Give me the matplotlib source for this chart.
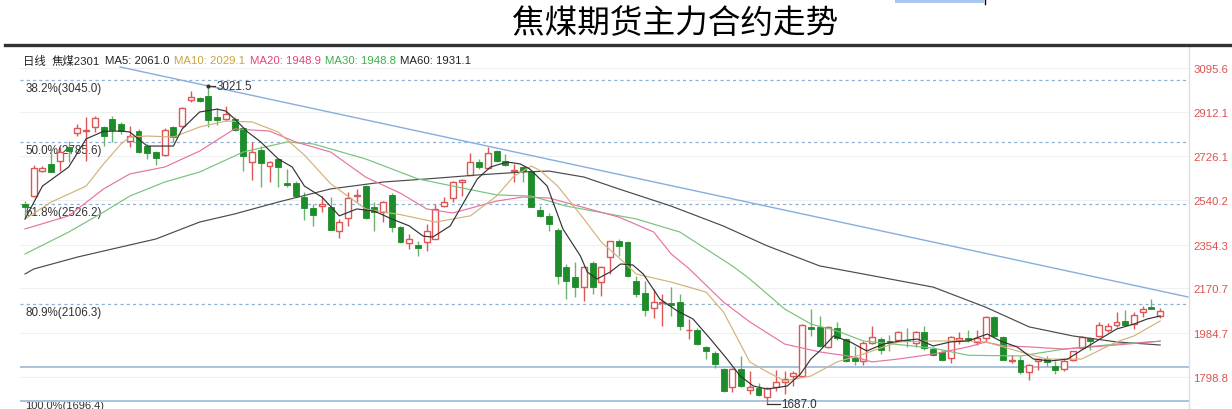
import matplotlib
matplotlib.use("Agg")
import matplotlib.pyplot as plt
from matplotlib.lines import Line2D
from matplotlib.patches import Rectangle

plt.rcParams['font.family'] = ['Liberation Sans', 'Noto Sans CJK SC', 'DejaVu Sans']

# ---------------- data ----------------
opens = [2525, 2557, 2663, 2693, 2704, 2764, 2823, 2831, 2847, 2849,
         2882, 2861, 2788, 2833, 2767, 2742, 2731, 2849, 2853, 2963,
         2970, 2977, 2889, 2882, 2882, 2843, 2702, 2753, 2686, 2714,
         2613, 2612, 2553, 2508, 2515, 2511, 2413, 2465, 2560, 2602,
         2511, 2492, 2563, 2427, 2361, 2354, 2364, 2378, 2518, 2549,
         2616, 2648, 2702, 2675, 2749, 2707, 2663, 2679, 2662, 2501,
         2473, 2417, 2262, 2217, 2178, 2276, 2199, 2304, 2371, 2364,
         2200, 2151, 2088, 2110, 2109, 2112, 1995, 1997, 1923, 1900,
         1832, 1756, 1832, 1745, 1753, 1716, 1756, 1777, 1804, 1804,
         2007, 2007, 1923, 2004, 1958, 1877, 1867, 1941, 1958, 1949,
         1955, 1955, 1941, 1986, 1916, 1902, 1879, 1955, 1961, 1944,
         1961, 2052, 1965, 1867, 1871, 1818, 1865, 1874, 1846, 1832,
         1871, 1919, 1961, 1972, 1997, 2017, 2033, 2021, 2073, 2091,
         2054]
highs = [2539, 2688, 2684, 2759, 2763, 2790, 2861, 2889, 2893, 2853,
         2895, 2868, 2853, 2840, 2777, 2749, 2843, 2853, 2931, 3000,
         2973, 3021.5, 2927, 2937, 2889, 2847, 2784, 2770, 2707, 2717,
         2672, 2623, 2574, 2525, 2560, 2553, 2462, 2574, 2588, 2606,
         2532, 2539, 2571, 2432, 2399, 2371, 2441, 2525, 2553, 2623,
         2630, 2739, 2714, 2763, 2751, 2735, 2693, 2684, 2667, 2518,
         2487, 2424, 2273, 2282, 2266, 2285, 2266, 2371, 2378, 2370,
         2221, 2203, 2168, 2147, 2175, 2147, 2042, 2004, 1930, 1908,
         1836, 1836, 1888, 1825, 1772, 1757, 1828, 1825, 1824, 2021,
         2084, 2056, 2012, 2028, 1962, 1930, 1951, 2012, 1966, 1975,
         1991, 2003, 1993, 2012, 1925, 1912, 1971, 1986, 1997, 1997,
         2055, 2055, 1971, 1891, 1888, 1853, 1877, 1886, 1866, 1874,
         1908, 1971, 1967, 2028, 2025, 2070, 2081, 2070, 2095, 2126,
         2088]
lows = [2469, 2555, 2659, 2658, 2665, 2700, 2812, 2707, 2826, 2770,
        2784, 2819, 2763, 2739, 2714, 2689, 2728, 2784, 2847, 2952,
        2952, 2847, 2856, 2874, 2832, 2665, 2627, 2595, 2616, 2595,
        2595, 2557, 2459, 2434, 2490, 2415, 2382, 2431, 2532, 2462,
        2413, 2448, 2406, 2361, 2336, 2308, 2329, 2376, 2511, 2532,
        2560, 2646, 2672, 2672, 2701, 2686, 2618, 2618, 2512, 2469,
        2413, 2189, 2126, 2134, 2119, 2147, 2140, 2231, 2308, 2218,
        2135, 2056, 2045, 2014, 2056, 1997, 1958, 1933, 1874, 1835,
        1736, 1735, 1757, 1727, 1719, 1687, 1740, 1727, 1762, 1803,
        1972, 1925, 1920, 1954, 1862, 1849, 1849, 1937, 1895, 1909,
        1944, 1925, 1923, 1912, 1887, 1866, 1858, 1937, 1944, 1933,
        1946, 1967, 1870, 1858, 1811, 1787, 1829, 1846, 1811, 1825,
        1866, 1916, 1913, 1967, 1988, 2008, 2013, 2000, 2050, 2084,
        2046]
closes = [2513, 2675, 2674, 2660, 2742, 2747, 2843, 2835, 2885, 2812,
          2837, 2830, 2812, 2742, 2739, 2717, 2837, 2807, 2927, 2973,
          2956, 2879, 2877, 2903, 2837, 2725, 2744, 2696, 2702, 2679,
          2606, 2560, 2508, 2479, 2525, 2417, 2448, 2549, 2563, 2465,
          2492, 2532, 2427, 2367, 2378, 2340, 2413, 2504, 2532, 2616,
          2627, 2702, 2679, 2738, 2707, 2689, 2665, 2662, 2514, 2476,
          2441, 2221, 2203, 2178, 2259, 2178, 2259, 2368, 2347, 2224,
          2147, 2081, 2112, 2112, 2102, 2012, 1997, 1937, 1909, 1853,
          1741, 1832, 1762, 1756, 1724, 1751, 1777, 1790, 1814, 2017,
          2000, 1930, 2007, 1961, 1867, 1867, 1940, 1968, 1913, 1944,
          1986, 1951, 1986, 1919, 1892, 1871, 1965, 1961, 1954, 1961,
          2052, 1972, 1871, 1871, 1821, 1849, 1874, 1860, 1828, 1867,
          1907, 1965, 1951, 2018, 2014, 2031, 2018, 2059, 2084, 2084,
          2077]

# moving averages (candle index, value)
ma5_idx = [0, 2, 5, 7, 9, 11, 12, 14, 17, 18, 20, 22, 23, 24, 25.5, 27, 29, 30.6,
           32, 34, 36, 38, 40, 42, 44, 45.6, 46.7, 48.7, 50.6, 51.8, 53.3, 55.2,
           56.7, 57.8, 59.8, 61.6, 63.6, 64.4, 65.5, 67, 68.2, 69.6, 70.8, 72.7,
           74.7, 76.5, 78.5, 80.4, 81.9, 83.4, 85, 87.3, 88.8, 90, 91, 92.6, 94.5,
           96.4, 98.3, 100.2, 102.2, 104, 106, 108, 110.2, 111.7, 113.6, 115.5,
           117.4, 119.4, 121.2, 123.1, 125, 127, 128.5, 130]
ma5_val = [2462, 2600, 2680, 2798, 2830, 2831, 2827, 2768, 2768, 2840, 2911, 2923,
           2915, 2882, 2827, 2785, 2714, 2680, 2600, 2554, 2475, 2504, 2495, 2462,
           2433, 2390, 2386, 2433, 2554, 2630, 2680, 2701, 2693, 2672, 2600, 2420,
           2307, 2239, 2210, 2239, 2273, 2269, 2231, 2126, 2076, 2042, 1958, 1874,
           1803, 1761, 1748, 1761, 1811, 1874, 1908, 1971, 1946, 1908, 1937, 1950,
           1958, 1929, 1946, 1950, 1979, 1950, 1925, 1874, 1866, 1874, 1916, 1958,
           2000, 2021, 2042, 2055]

ma10_idx = [0, 3, 7, 9, 11, 12, 14, 17, 20, 23, 26, 29, 32, 35, 39, 43, 47, 51,
            54, 56, 58, 59, 61, 64, 66, 68, 70, 74, 78, 80, 83, 85, 87, 90, 93, 96,
            100, 104, 108, 110, 114, 117, 121, 125, 127, 130]
ma10_val = [2462, 2533, 2600, 2693, 2777, 2806, 2810, 2806, 2848, 2873, 2869, 2827,
            2730, 2610, 2504, 2480, 2449, 2475, 2558, 2642, 2684, 2665, 2600, 2462,
            2365, 2300, 2231, 2197, 2155, 2071, 1862, 1820, 1782, 1803, 1862, 1895,
            1946, 1950, 1950, 1946, 1904, 1874, 1874, 1946, 1971, 2034]

ma20_idx = [0, 5, 9, 12, 16, 20, 24, 28, 31, 35, 39, 43, 46, 49, 54, 57, 60, 68,
            72, 74, 76, 80, 83, 87, 91, 95, 97, 100, 104, 108, 110, 112, 115, 119,
            125, 130]
ma20_val = [2420, 2475, 2588, 2651, 2680, 2747, 2840, 2831, 2785, 2743, 2638, 2570,
            2504, 2487, 2537, 2554, 2550, 2470, 2407, 2315, 2255, 2113, 2030, 1937,
            1904, 1883, 1862, 1874, 1895, 1925, 1945, 1930, 1925, 1916, 1933, 1949]

ma30_idx = [0, 5, 9, 12, 16, 20, 25, 30, 33, 39, 45, 49, 54, 58, 62, 70, 75, 81,
            83, 87, 90, 93, 96, 104, 108, 114, 119, 125, 130]
ma30_val = [2315, 2407, 2491, 2558, 2617, 2659, 2743, 2785, 2777, 2714, 2630, 2600,
            2563, 2558, 2516, 2462, 2407, 2265, 2210, 2084, 2021, 1992, 1950, 1920,
            1890, 1887, 1916, 1937, 1949]

ma60_idx = [0, 1, 6, 10, 15, 20, 24, 29, 35, 41, 46, 52, 57, 60, 64, 68, 74, 80,
            85, 91, 96, 104, 110, 115, 120, 125, 130]
ma60_val = [2231, 2252, 2302, 2336, 2378, 2449, 2483, 2533, 2588, 2617, 2630, 2647,
            2659, 2663, 2638, 2588, 2516, 2432, 2349, 2265, 2231, 2176, 2092, 2009,
            1971, 1946, 1933]

fib_labels = ["38.2%(3045.0)", "50.0%(2785.6)", "61.8%(2526.2)", "80.9%(2106.3)"]
fib_values = [3045.0, 2785.6, 2526.2, 2106.3]
support_values = [1841.0, 1696.4]
bottom_label = "100.0%(1696.4)"
ytick_values = [3095.6, 2912.1, 2726.1, 2540.2, 2354.3, 2170.7, 1984.7, 1798.8]
trend_idx = [10.9, 133.2]
trend_val = [3099.8, 2134.5]
high_idx, high_val = 21, 3021.5
low_idx, low_val = 85, 1687.0

title = "焦煤期货主力合约走势"
legend_parts = [("日线", "#222222"), ("焦煤2301", "#222222"), ("MA5: 2061.0", "#222222"),
                ("MA10: 2029.1", "#c9a43a"), ("MA20: 1948.9", "#e0457f"),
                ("MA30: 1948.8", "#3cb04a"), ("MA60: 1931.1", "#222222")]

# ---------------- figure ----------------
W, H = 1232, 410
fig = plt.figure(figsize=(W / 100, H / 100), dpi=100)
fig.patch.set_facecolor("white")

ax_left, ax_right, ax_top, ax_bottom = 20, 1189, 47, 410
ax = fig.add_axes([ax_left / W, 1 - ax_bottom / H, (ax_right - ax_left) / W,
                   (ax_bottom - ax_top) / H])
ax.set_xlim(-0.573, 133.3)
ax.set_ylim(1664.4, 3187.9)
for s in ["left", "top", "bottom"]:
    ax.spines[s].set_visible(False)
ax.spines["right"].set_color("#dddddd")
ax.spines["right"].set_linewidth(1.0)
ax.set_xticks([])
ax.yaxis.tick_right()
ax.set_yticks(ytick_values)
ax.set_yticklabels([f"{v:.1f}" for v in ytick_values])
ax.tick_params(axis="y", length=0, pad=3, labelsize=8.2, labelcolor="#d9534f")

# faint grid
for v in ytick_values:
    ax.axhline(v, color="#f0f0f0", lw=0.8, zorder=0)

# fib dotted lines
for v, lab in zip(fib_values, fib_labels):
    ax.axhline(v, color="#8fb2d2", lw=0.9, ls=(0, (2.5, 2.5)), zorder=1)
    ax.annotate(lab, xy=(0, v), xycoords=("axes fraction", "data"),
                xytext=(4, -1.5), textcoords="offset points", ha="left", va="top",
                fontsize=8.4, color="#333333")
for v in support_values:
    ax.axhline(v, color="#a9c3dc", lw=1.4, zorder=1)
ax.annotate(bottom_label, xy=(0, support_values[-1]), xycoords=("axes fraction", "data"),
            xytext=(4, 1.0), textcoords="offset points", ha="left", va="top",
            fontsize=8.0, color="#333333", annotation_clip=False, zorder=0.5)

# trend line
ax.plot(trend_idx, trend_val, color="#86aede", lw=1.0, zorder=2)

# moving averages
ax.plot(ma60_idx, ma60_val, color="#4a4a4a", lw=0.85, zorder=4)
ax.plot(ma30_idx, ma30_val, color="#79c27a", lw=0.85, zorder=4)
ax.plot(ma20_idx, ma20_val, color="#e7739f", lw=0.85, zorder=4)
ax.plot(ma10_idx, ma10_val, color="#d2b27a", lw=0.85, zorder=4)
ax.plot(ma5_idx, ma5_val, color="#333333", lw=0.85, zorder=5)

# candles
red = "#de5656"
green_body = "#1d8c2a"
green_wick = "#6ab46c"
width = 0.68
for i, (o, h, l, c) in enumerate(zip(opens, highs, lows, closes)):
    up = c >= o
    bot = min(o, c)
    hgt = max(abs(c - o), 2.5)
    if up:
        ax.vlines(i, l, h, color=red, lw=1.0, zorder=3)
        ax.bar(i, hgt, bottom=bot, width=width, facecolor="white", edgecolor=red,
               linewidth=1.0, zorder=3.5)
    else:
        ax.vlines(i, l, h, color=green_wick, lw=1.0, zorder=3)
        ax.bar(i, hgt, bottom=bot, width=width, facecolor=green_body,
               edgecolor=green_body, linewidth=0.6, zorder=3.5)

# high / low annotations
ax.plot([high_idx, high_idx + 0.8], [high_val, high_val], color="#333333", lw=0.9, zorder=6)
ax.plot([high_idx], [high_val], marker="o", ms=2, color="#333333", zorder=6)
ax.text(high_idx + 0.9, high_val, f"{high_val:.1f}", fontsize=8.4, color="#333333",
        ha="left", va="center")
ax.plot([low_idx, low_idx, low_idx + 1.5], [low_val, low_val - 3, low_val - 3],
        color="#333333", lw=0.9, zorder=6)
ax.text(low_idx + 1.6, low_val - 3, f"{low_val:.1f}", fontsize=8.4, color="#333333",
        ha="left", va="center")

# legend line (multi-colour)
legend_x = [22.7, 51.7, 105, 174, 250, 325, 400]
for (txt, col), px in zip(legend_parts, legend_x):
    fig.text(px / W, 1 - 61 / H, txt, fontsize=8.2, color=col, ha="left", va="center")

# title
fig.text(675 / W, 1 - 24 / H, title, fontsize=23.5, color="black", ha="center",
         va="center", family=["Noto Sans CJK SC"], fontweight="medium")

# top border
fig.add_artist(Line2D([5 / W, 1], [1 - 46 / H, 1 - 46 / H], color="#333333", lw=2.4))
fig.add_artist(Rectangle((895 / W, 1 - 4 / H), 89 / W, 4 / H, facecolor="#a9c8f0",
                         edgecolor="none", transform=fig.transFigure))
fig.add_artist(Line2D([985 / W, 985 / W], [1 - 5 / H, 1], color="black", lw=1))

fig.savefig("out.png", dpi=100, facecolor="white")
